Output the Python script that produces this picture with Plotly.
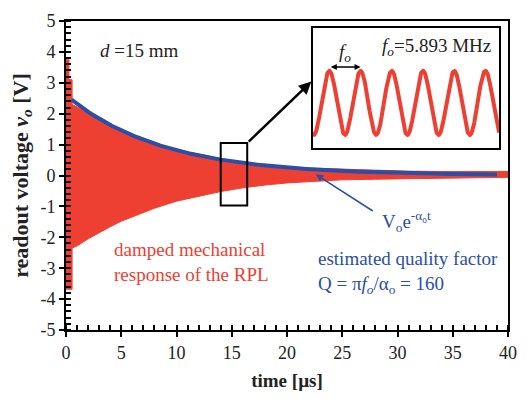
import numpy as np
import plotly.graph_objects as go

# ---- data -------------------------------------------------------------
# envelope of the measured readout voltage (time in µs, volts)
t_upper = [0, 0.27, 0.27, 0.55, 0.55, 1, 2, 3, 4, 5, 6, 8, 10, 12, 14, 16,
           18, 20, 22, 25, 28, 31, 34, 37, 40]
v_upper = [3.75, 3.75, 3.1, 3.1, 2.3, 2.22, 2.02, 1.84, 1.66, 1.49, 1.34, 1.07,
           0.84, 0.68, 0.54, 0.43, 0.35, 0.29, 0.24, 0.2, 0.16, 0.14, 0.13,
           0.13, 0.13]
t_lower = [0, 0.55, 0.55, 1, 2, 3, 4, 5, 6, 8, 10, 12, 14, 16, 18, 20, 22,
           25, 28, 31, 34, 37, 40]
v_lower = [-3.68, -3.68, -2.35, -2.28, -2.05, -1.85, -1.66, -1.48, -1.34,
           -1.06, -0.83, -0.68, -0.52, -0.4, -0.31, -0.24, -0.19, -0.14,
           -0.12, -0.1, -0.08, -0.07, -0.06]

f0_mhz = 5.893          # resonance frequency
Q_est = 160             # estimated quality factor
V0 = 2.6                # fitted amplitude [V]
t_fit_range = [0.5, 39.0]

zoom_box_t = [14.0, 16.4]
zoom_box_v = [-0.97, 1.05]
inset_window = [15.0, 16.014]
inset_first_peak = 15.0907

x_ticks = [0, 5, 10, 15, 20, 25, 30, 35, 40]
y_ticks = [-5, -4, -3, -2, -1, 0, 1, 2, 3, 4, 5]
y_tick_labels = ["-5", "-4", "-3", "-2", "-1", "0", "1", "2", "3", "4", "5"]

# ---- derived curves ---------------------------------------------------
alpha = np.pi * f0_mhz / Q_est                      # 1/µs
t_fit = np.linspace(t_fit_range[0], t_fit_range[1], 300)
v_fit = V0 * np.exp(-alpha * t_fit)

t_in = np.linspace(inset_window[0], inset_window[1], 600)
v_in = np.cos(2 * np.pi * f0_mhz * (t_in - inset_first_peak))

RED = "#EE4032"
BLUE = "#2B4EA6"
FONT = "Liberation Serif"

fig = go.Figure()

# damped response drawn as the filled band between its envelopes
band_t = list(t_upper) + list(reversed(t_lower))
band_v = list(v_upper) + list(reversed(v_lower))
fig.add_trace(go.Scatter(x=band_t, y=band_v, mode="lines", fill="toself",
                         fillcolor=RED, line=dict(color=RED, width=1),
                         hoverinfo="skip", showlegend=False))

# exponential decay envelope
fig.add_trace(go.Scatter(x=t_fit, y=v_fit, mode="lines",
                         line=dict(color=BLUE, width=4),
                         showlegend=False))

# inset oscillation
fig.add_trace(go.Scatter(x=t_in, y=v_in, mode="lines", xaxis="x2", yaxis="y2",
                         line=dict(color=RED, width=4), showlegend=False))

# carrier for the crossing major ticks
fig.add_trace(go.Scatter(x=[None], y=[None], xaxis="x3", yaxis="y3",
                         showlegend=False))

axis_common = dict(showgrid=False, zeroline=False, linecolor="black",
                   linewidth=2, mirror=True, ticks="outside", ticklen=5,
                   tickwidth=1.5, tickcolor="black",
                   tickfont=dict(family=FONT, size=18, color="#222"))

fig.update_layout(
    width=528, height=399,
    margin=dict(l=66, r=11, t=13, b=64),
    paper_bgcolor="white", plot_bgcolor="white",
    xaxis=dict(axis_common, range=[0, 40], tickvals=x_ticks,
               minor=dict(dtick=1, ticks="inside", ticklen=5, tickwidth=1.5,
                          tickcolor="black"),
               title=dict(text="<b>time [µs]</b>",
                          font=dict(family=FONT, size=19, color="#222"),
                          standoff=12)),
    yaxis=dict(axis_common, range=[-5, 5], tickvals=y_ticks,
               ticktext=y_tick_labels,
               minor=dict(dtick=0.2, ticks="inside", ticklen=5, tickwidth=1.5,
                          tickcolor="black"),
               title=dict(text="<b>readout voltage <i>v<sub>o</sub></i> [V]</b>",
                          font=dict(family=FONT, size=22, color="#222"),
                          standoff=6)),
    xaxis3=dict(overlaying="x", range=[0, 40], tickvals=x_ticks,
                ticks="inside", ticklen=5, tickwidth=1.5, tickcolor="black",
                showticklabels=False, showgrid=False, zeroline=False,
                showline=False),
    yaxis3=dict(overlaying="y", range=[-5, 5], tickvals=y_ticks,
                ticks="inside", ticklen=5, tickwidth=1.5, tickcolor="black",
                showticklabels=False, showgrid=False, zeroline=False,
                showline=False),
    xaxis2=dict(domain=[0.558, 0.980], anchor="y2", range=inset_window,
                showgrid=False, zeroline=False, showticklabels=False,
                ticks="", showline=True, mirror=True, linecolor="black",
                linewidth=2),
    yaxis2=dict(domain=[0.588, 0.976], anchor="x2", range=[-1.42, 2.33],
                showgrid=False, zeroline=False, showticklabels=False,
                ticks="", showline=True, mirror=True, linecolor="black",
                linewidth=2),
)

# zoom window on the main trace
fig.add_shape(type="rect", xref="x", yref="y",
              x0=zoom_box_t[0], x1=zoom_box_t[1],
              y0=zoom_box_v[0], y1=zoom_box_v[1],
              line=dict(color="black", width=2))

period = 1.0 / f0_mhz
ann = []
# arrow from the zoom window to the inset
ann.append(dict(x=22.2, y=3.04, xref="x", yref="y", ax=zoom_box_t[1],
                ay=zoom_box_v[1], axref="x", ayref="y", text="",
                showarrow=True, arrowhead=2, arrowsize=1, arrowwidth=2.5,
                arrowcolor="black"))
# one period marker inside the inset
ann.append(dict(x=inset_first_peak + period, y=1.12, xref="x2", yref="y2",
                ax=inset_first_peak, ay=1.12, axref="x2", ayref="y2",
                text="", showarrow=True, arrowhead=2, startarrowhead=2,
                arrowside="end+start", arrowsize=0.8, arrowwidth=1.5,
                arrowcolor="black"))
ann.append(dict(x=inset_first_peak + period / 2, y=1.55, xref="x2", yref="y2",
                text="<i>f<sub>o</sub></i>", showarrow=False,
                font=dict(family=FONT, size=19, color="#222")))
ann.append(dict(x=15.98, y=1.75, xref="x2", yref="y2", xanchor="right",
                text=f"<i>f<sub>o</sub></i>={f0_mhz:.3f} MHz",
                showarrow=False, font=dict(family=FONT, size=19, color="#222")))
ann.append(dict(x=2.9, y=4.06, xref="x", yref="y", xanchor="left",
                text="<i>d</i> =15 mm", showarrow=False,
                font=dict(family=FONT, size=19, color="#222")))
ann.append(dict(x=4.17, y=-2.8, xref="x", yref="y", xanchor="left",
                align="left", text="damped mechanical<br>response of the RPL",
                showarrow=False, font=dict(family=FONT, size=19, color=RED)))
ann.append(dict(x=22.6, y=0.04, xref="x", yref="y", ax=27.9, ay=-1.18,
                axref="x", ayref="y", text="", showarrow=True, arrowhead=2,
                arrowsize=1, arrowwidth=1.5, arrowcolor=BLUE))
ann.append(dict(x=28.4, y=-1.5, xref="x", yref="y", xanchor="left",
                text="V<sub>o</sub>e<sup>-α<sub>o</sub>t</sup>",
                showarrow=False, font=dict(family=FONT, size=19, color=BLUE)))
ann.append(dict(x=22.6, y=-3.15, xref="x", yref="y", xanchor="left",
                align="left",
                text=f"estimated quality factor<br>Q = π<i>f<sub>o</sub></i>/α<sub>o</sub> = {Q_est}",
                showarrow=False, font=dict(family=FONT, size=19, color=BLUE)))
fig.update_layout(annotations=ann)

fig.write_html("out.html")
